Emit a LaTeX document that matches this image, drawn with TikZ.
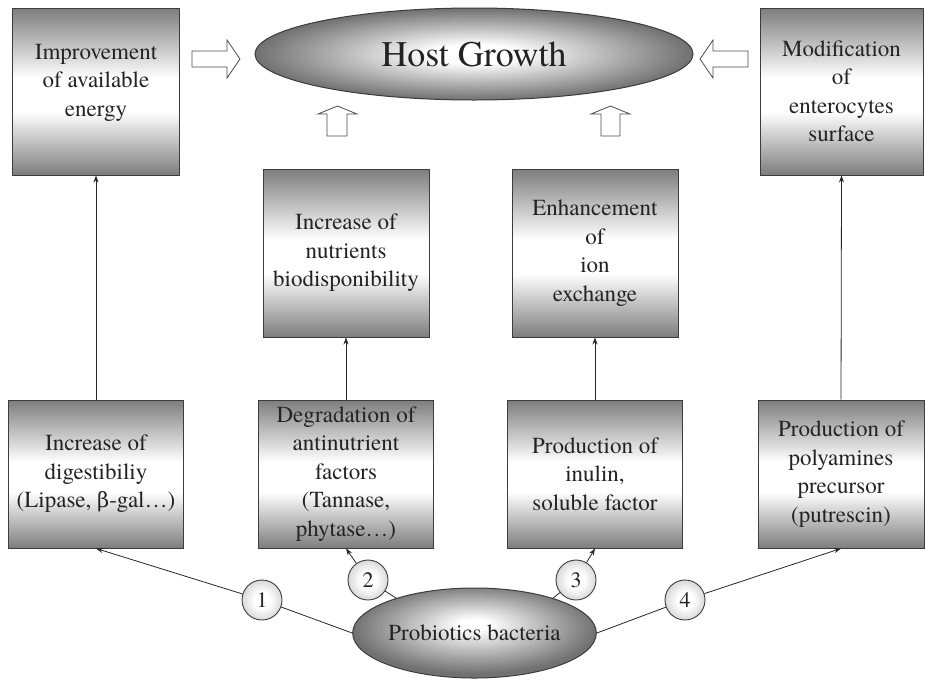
\documentclass[tikz,border=0pt]{standalone}
\usepackage{fontspec}
\setmainfont{texgyretermes}[Extension=.otf, UprightFont=*-regular, BoldFont=*-bold, ItalicFont=*-italic, BoldItalicFont=*-bolditalic]
\newfontfamily\grk{DejaVu Serif}
\usetikzlibrary{arrows.meta,shapes.geometric}
\definecolor{shadegray}{RGB}{125,125,125}
\definecolor{edgegray}{RGB}{60,60,60}
\definecolor{txtgray}{RGB}{35,35,35}
\pgfdeclareverticalshading{boxshade}{100bp}{color(0bp)=(shadegray); color(25bp)=(shadegray); color(44bp)=(white); color(54bp)=(white); color(75bp)=(shadegray); color(100bp)=(shadegray)}
\pgfdeclareradialshading{ellshade}{\pgfpoint{0bp}{0bp}}{color(0bp)=(white); color(5bp)=(white); color(25bp)=(shadegray!90!black); color(50bp)=(shadegray!90!black)}
\pgfdeclareradialshading{probshade}{\pgfpoint{0bp}{5bp}}{color(0bp)=(white); color(3bp)=(white); color(25bp)=(shadegray!90!black); color(50bp)=(shadegray!90!black)}
\pgfdeclareradialshading{circshade}{\pgfpoint{0bp}{0bp}}{color(0bp)=(white); color(10bp)=(white); color(25bp)=(black!15); color(50bp)=(black!15)}
\begin{document}
\begin{tikzpicture}[x=1pt,y=-1pt,
  box/.style={draw=edgegray, line width=0.9pt, shading=boxshade, align=center,
    font=\fontsize{23}{28.5}\selectfont, text=txtgray, inner sep=1pt},
  ell/.style={ellipse, draw=edgegray, line width=1pt, text=txtgray, inner sep=0pt},
  num/.style={circle, draw=edgegray, line width=0.9pt, shading=circshade, minimum size=40pt,
    inner sep=0pt, font=\fontsize{22}{24}\selectfont, text=txtgray},
  conn/.style={draw=black!85, line width=0.8pt},
  tip/.style={-{Stealth[length=7pt,width=5pt]}},
  hollow/.style={draw=black!70, line width=0.8pt, fill=white, line join=miter}]
\useasboundingbox (0,0) rectangle (925,681);

% top row
\node[box, minimum width=167pt, minimum height=167pt] (imp) at (96,91.5) {Improvement\\of available\\energy\\[-6pt]};
\node[box, minimum width=163pt, minimum height=167pt] (mod) at (841.5,91.5) {Modification\\of\\enterocytes\\surface};
\node[ell, shading=ellshade, minimum width=438pt, minimum height=92pt,
  font=\fontsize{36}{40}\selectfont] (host) at (474,54) {Host Growth};

% middle row
\node[box, minimum width=166pt, minimum height=168pt] (nut) at (346,253) {Increase of\\nutrients\\biodisponibility};
\node[box, minimum width=166pt, minimum height=168pt] (ion) at (595,253) {Enhancement\\of\\ion\\exchange};

% bottom row
\node[box, minimum width=175pt, minimum height=148pt] (dig) at (96,474) {Increase of\\digestibiliy\\(Lipase, {\grk\fontsize{21}{28.5}\selectfont β}-gal…)};
\node[box, minimum width=175pt, minimum height=148pt] (deg) at (346,474) {Degradation of\\antinutrient\\factors\\(Tannase,\\phytase…)};
\node[box, minimum width=175pt, minimum height=148pt] (inu) at (595,474) {Production of\\inulin,\\soluble factor};
\node[box, minimum width=166pt, minimum height=148pt] (pol) at (841,474) {Production of\\polyamines\\precursor\\(putrescin)};

% probiotics
\node[ell, shading=probshade, minimum width=235pt, minimum height=90pt,
  font=\fontsize{23}{26}\selectfont] (prob) at (474.5,633) {Probiotics bacteria};

% numbered circles
\node[num] (c1) at (262,600) {1};
\node[num] (c2) at (368,580) {2};
\node[num] (c3) at (576,580) {3};
\node[num] (c4) at (685,600) {4};

% connectors from probiotics
\draw[conn] (prob.west) -- (c1);
\draw[conn,tip] (c1) -- (dig.south);
\draw[conn] (prob.156) -- (c2);
\draw[conn,tip] (c2) -- (deg.south);
\draw[conn] (prob.24) -- (c3);
\draw[conn,tip] (c3) -- (inu.south);
\draw[conn] (prob.east) -- (c4);
\draw[conn,tip] (c4) -- (pol.south);

% vertical connectors
\draw[conn,tip] (dig.north) -- (imp.south);
\draw[conn,tip] (deg.north) -- (nut.south);
\draw[conn,tip] (inu.north) -- (ion.south);
\draw[conn,tip] (pol.north) -- (mod.south);

% hollow block arrows
\draw[hollow] (192,51) -- (227,51) -- (227,40) -- (240,59) -- (227,78) -- (227,67) -- (192,67) -- cycle;
\draw[hollow] (748,51) -- (713,51) -- (713,40) -- (700,59) -- (713,78) -- (713,67) -- (748,67) -- cycle;
\draw[hollow] (327,136) -- (327,114) -- (318,114) -- (337.5,106) -- (357,114) -- (347,114) -- (347,136) -- cycle;
\draw[hollow] (601,136) -- (601,114) -- (591,114) -- (610.5,106) -- (630,114) -- (620,114) -- (620,136) -- cycle;
\end{tikzpicture}
\end{document}
